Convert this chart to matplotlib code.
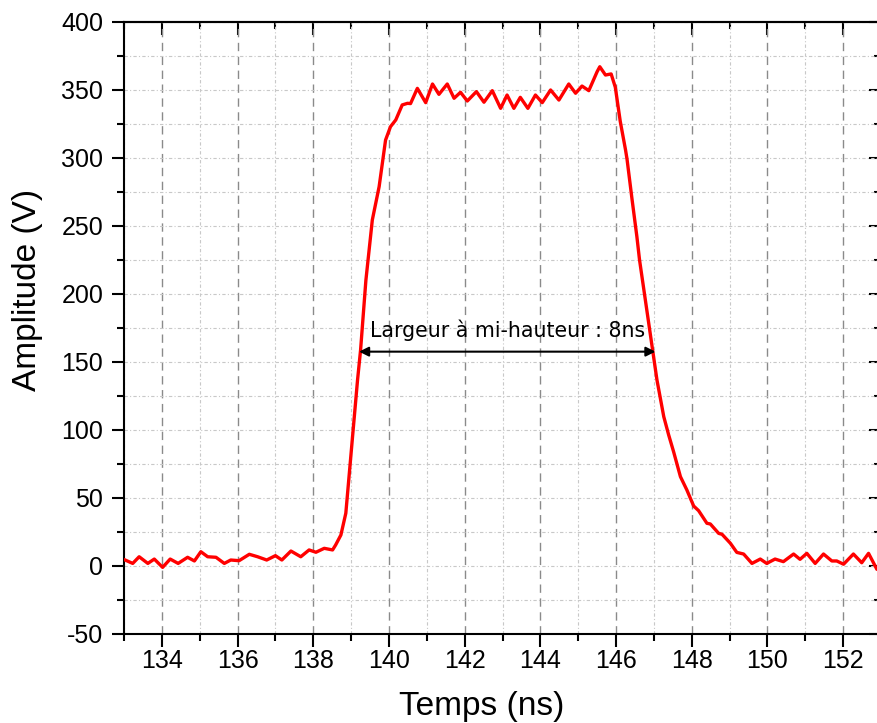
import matplotlib
matplotlib.use("Agg")
import matplotlib.pyplot as plt
import numpy as np

# Time (ns) and amplitude (V)
time_ns = [133.03, 133.23, 133.40, 133.63, 133.80, 134.02, 134.22, 134.43, 134.68, 134.86,
           135.03, 135.21, 135.43, 135.65, 135.82, 136.04, 136.31, 136.53, 136.77, 137.00,
           137.17, 137.41, 137.67, 137.89, 138.07, 138.29, 138.51, 138.59, 138.73, 138.86,
           139.03, 139.17, 139.25, 139.39, 139.56, 139.74, 139.91, 140.04, 140.18, 140.35,
           140.49, 140.57, 140.75, 140.97, 141.15, 141.32, 141.54, 141.72, 141.89, 142.07,
           142.31, 142.51, 142.73, 142.95, 143.12, 143.30, 143.47, 143.67, 143.87, 144.05,
           144.27, 144.49, 144.75, 144.93, 145.10, 145.28, 145.50, 145.57, 145.72, 145.87,
           145.98, 146.11, 146.25, 146.29, 146.42, 146.55, 146.62, 147.08, 147.26, 147.39,
           147.52, 147.70, 147.87, 148.05, 148.18, 148.40, 148.49, 148.71, 148.80, 149.02,
           149.19, 149.37, 149.59, 149.81, 149.98, 150.20, 150.42, 150.69, 150.86, 151.04,
           151.26, 151.48, 151.70, 151.83, 152.01, 152.27, 152.49, 152.67, 152.89, 153.00]
amplitude_v = [4.4, 1.9, 6.8, 1.9, 5.1, -1.0, 5.1, 1.9, 6.4, 3.7,
               10.5, 6.8, 6.4, 1.9, 4.4, 3.9, 8.6, 6.8, 4.4, 7.6,
               4.4, 11.0, 6.8, 11.8, 10.1, 13.0, 11.8, 15.4, 22.8, 38.8,
               92.6, 136.8, 158.8, 210.0, 254.4, 278.9, 313.2, 323.0, 328.0, 339.0,
               340.2, 340.0, 351.2, 340.7, 354.4, 346.8, 354.4, 343.9, 348.3, 341.9,
               348.8, 341.0, 349.5, 336.5, 346.3, 336.5, 344.6, 336.5, 346.3, 340.7,
               350.0, 342.6, 354.4, 347.6, 352.9, 349.5, 363.5, 367.1, 361.0, 361.8,
               352.0, 327.0, 305.9, 299.0, 270.0, 242.1, 225.0, 136.8, 109.8, 96.3,
               84.0, 65.7, 55.9, 44.1, 40.7, 31.4, 30.9, 24.0, 23.3, 16.7,
               10.0, 8.8, 1.9, 5.1, 1.9, 5.1, 3.2, 8.8, 4.9, 9.3,
               1.9, 8.8, 3.7, 3.7, 1.3, 8.8, 2.4, 9.3, -2.4, -3.0]

x_major = [134, 136, 138, 140, 142, 144, 146, 148, 150, 152]
y_major = [-50, 0, 50, 100, 150, 200, 250, 300, 350, 400]

annot_text = "Largeur à mi-hauteur : 8ns"
fwhm_start, fwhm_end, fwhm_level = 139.21, 147.04, 157.6

plt.rcParams['font.family'] = ['Liberation Sans', 'DejaVu Sans']
plt.rcParams['axes.unicode_minus'] = False

fig = plt.figure(figsize=(8.77, 7.23), dpi=100)
ax = fig.add_axes([0.1414, 0.1231, 0.8632, 0.8465])

ax.set_xlim(133, 153)
ax.set_ylim(-50, 400)
ax.set_xticks(x_major)
ax.set_xticks(np.arange(133, 154, 1), minor=True)
ax.set_yticks(y_major)
ax.set_yticks(np.arange(-25, 400, 50), minor=True)

# grids
ax.grid(which='major', axis='x', color='#8a8a8a', linestyle=(0, (6, 4)), linewidth=1.0)
ax.grid(which='minor', axis='x', color='#c8c8c8', linestyle=(0, (3, 2, 1, 2)), linewidth=0.8)
ax.grid(which='both', axis='y', color='#c8c8c8', linestyle=(0, (3, 2, 1, 2)), linewidth=0.8)
ax.set_axisbelow(True)

ax.plot(time_ns, amplitude_v, color='#ff0000', linewidth=2.4, zorder=3,
        solid_joinstyle='round')

for s in ax.spines.values():
    s.set_linewidth(1.5)

ax.tick_params(which='major', direction='out', length=9, width=1.5, labelsize=18, pad=2)
ax.tick_params(which='minor', direction='out', length=5, width=1.5)
ax.tick_params(axis='y', which='major', pad=6)

secx = ax.secondary_xaxis('top')
secx.set_xticks(x_major)
secx.set_xticks(np.arange(133, 154, 1), minor=True)
secx.tick_params(which='major', direction='in', length=9, width=1.5, labeltop=False)
secx.tick_params(which='minor', direction='in', length=5, width=1.5)
secx.spines['top'].set_linewidth(1.5)

secy = ax.secondary_yaxis('right')
secy.set_yticks(y_major)
secy.set_yticks(np.arange(-25, 400, 50), minor=True)
secy.tick_params(which='major', direction='in', length=9, width=1.5, labelright=False)
secy.tick_params(which='minor', direction='in', length=5, width=1.5)
secy.spines['right'].set_linewidth(1.5)

ax.set_xlabel("Temps (ns)", fontsize=24)
ax.set_ylabel("Amplitude (V)", fontsize=24)
ax.xaxis.set_label_coords(0.473, -0.118)
ax.yaxis.set_label_coords(-0.128, 0.562)
ax.xaxis.label.set_va('center')
ax.yaxis.label.set_va('center')

ax.annotate("", xy=(fwhm_start, fwhm_level), xytext=(fwhm_end, fwhm_level),
            arrowprops=dict(arrowstyle='<|-|>', color='black', lw=1.5,
                            mutation_scale=14, shrinkA=0, shrinkB=0), zorder=4)
ax.text((fwhm_start + fwhm_end) / 2, fwhm_level + 8, annot_text,
        ha='center', va='bottom', fontsize=14.8, family=['DejaVu Sans'], zorder=4)

fig.savefig("out.png", dpi=100)
